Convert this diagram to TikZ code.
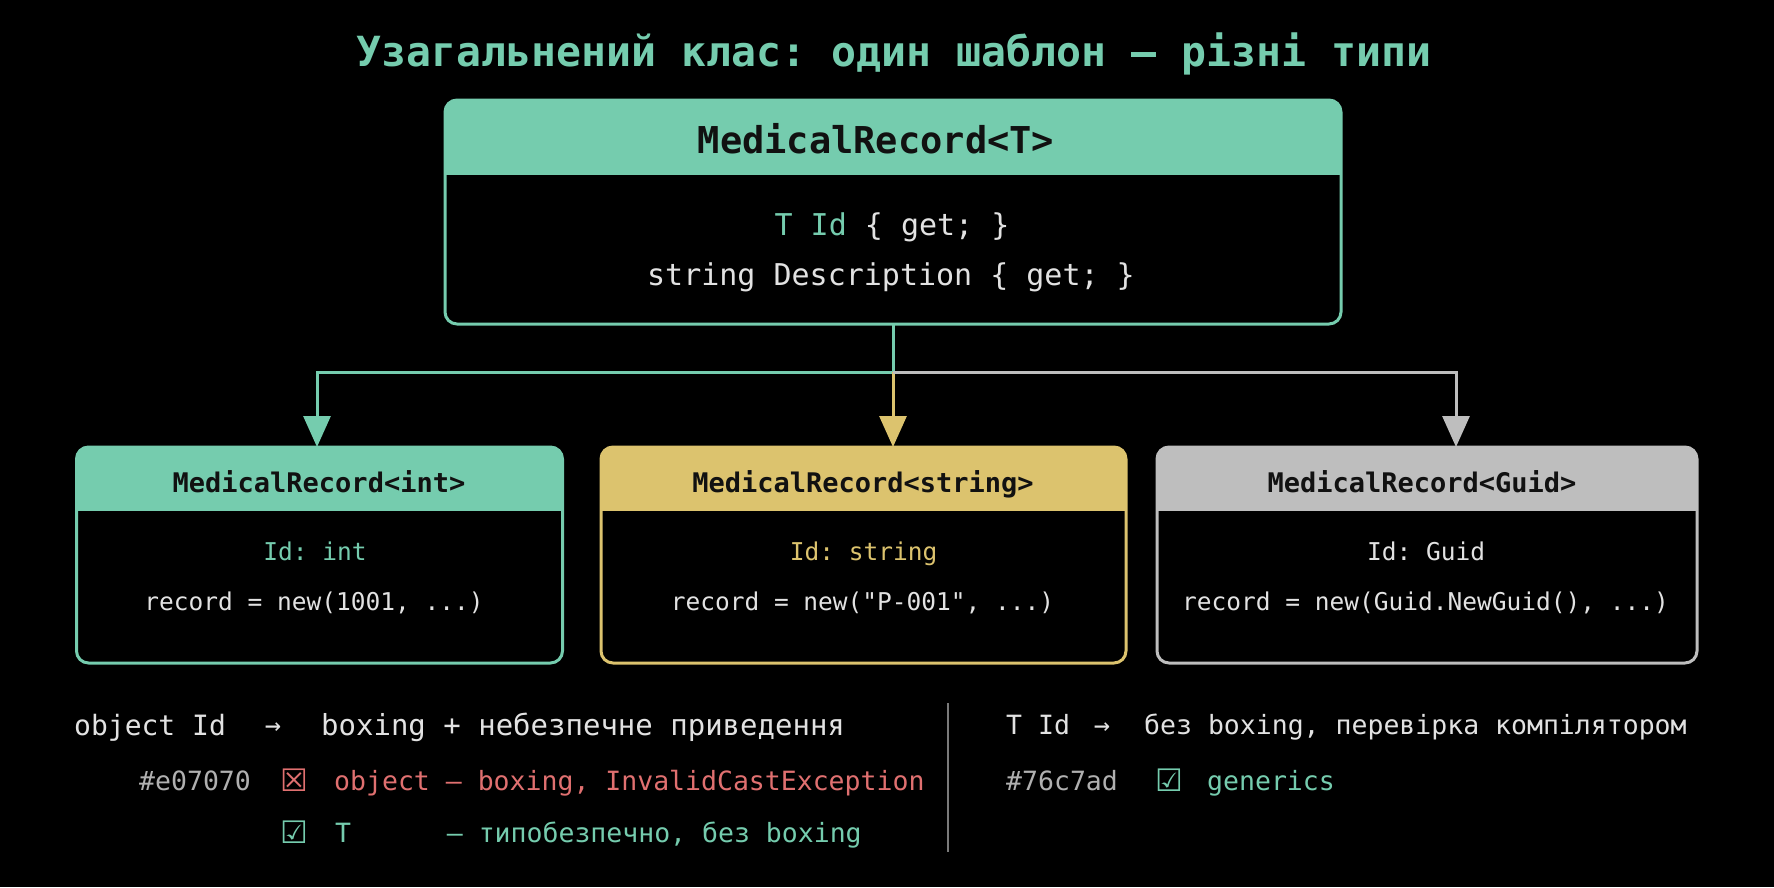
\documentclass[tikz,border=0pt]{standalone}
\usepackage{fontspec}
\setmainfont{DejaVu Sans Mono}[Ligatures=TeXReset]
\newfontfamily\symf{DejaVu Sans}
\usetikzlibrary{arrows.meta}
\definecolor{tealc}{HTML}{75CCAE}
\definecolor{yellc}{HTML}{DCC36E}
\definecolor{greyc}{HTML}{BEBEBE}
\definecolor{redc}{HTML}{E07070}
\definecolor{wtxt}{HTML}{E2E2E2}
\definecolor{gtxt}{HTML}{B0B0B0}
\definecolor{hdrtxt}{HTML}{111111}
\definecolor{divc}{HTML}{7A7A7A}
\newcommand\mkheader[3]{%
  \begin{scope}
    \clip[rounded corners=12pt] (#1.north west) rectangle (#1.south east);
    \fill[#2] (#1.north west) rectangle ([yshift=-#3pt]#1.north east);
  \end{scope}}
\begin{document}
\frenchspacing
\begin{tikzpicture}[x=1pt,y=-1pt,
  box/.style={draw=#1, line width=3pt, rounded corners=12pt, fill=black, inner sep=0pt, outer sep=0pt},
  txt/.style={inner sep=0pt},
  ttl/.style={txt, font=\bfseries\fontsize{41.5}{48}\selectfont, text=tealc, text height=31.1pt, text depth=10.4pt},
  hbig/.style={txt, font=\bfseries\fontsize{37}{44}\selectfont, text=hdrtxt, text height=27.8pt, text depth=9.2pt},
  hsmall/.style={txt, font=\bfseries\fontsize{27}{32}\selectfont, text=hdrtxt, text height=20.2pt, text depth=6.8pt},
  bodyA/.style={txt, font=\fontsize{30}{36}\selectfont, text=wtxt, text height=22.5pt, text depth=7.5pt},
  bodyB/.style={txt, font=\fontsize{24.5}{30}\selectfont, text=wtxt, text height=18.4pt, text depth=6.1pt},
  botA/.style={txt, font=\fontsize{28}{34}\selectfont, text=wtxt, anchor=west, text height=21pt, text depth=7pt},
  botA2/.style={txt, font=\fontsize{29}{34}\selectfont, text=wtxt, anchor=west, text height=21.7pt, text depth=7.3pt},
  botB/.style={txt, font=\fontsize{26.5}{32}\selectfont, text=wtxt, anchor=west, text height=19.9pt, text depth=6.6pt},
  arrtxt/.style={txt, font=\fontsize{27}{32}\selectfont, text=wtxt, text height=20.2pt, text depth=6.8pt},
  sym/.style={txt, font=\symf\fontsize{31}{36}\selectfont, text height=23.2pt, text depth=7.8pt},
  conn/.style={line width=3pt},
  arr/.style={conn, -{Triangle[length=31pt,width=27pt]}},
  divider/.style={draw=divc, line width=2pt}]
\fill[black] (0,0) rectangle (1774,887);
\useasboundingbox (0,0) rectangle (1774,887);

% title
\node[ttl] (title) at (894,56) {Узагальнений клас: один шаблон – різні типи};

% top box
\node[box=tealc, minimum width=896pt, minimum height=224pt] (top) at (893,212) {};
\mkheader{top}{tealc}{75}
\node[hbig] (toph) at (876,144) {MedicalRecord<T>};
\node[bodyA] (top1) at (892,228) {\textcolor{tealc}{T Id} \{ get; \}};
\node[bodyA] (top2) at (891,278) {string Description \{ get; \}};

% child boxes
\node[box=tealc, minimum width=486pt, minimum height=216pt] (cint) at (319.5,555) {};
\mkheader{cint}{tealc}{64}
\node[hsmall] (cinth) at (319,486) {MedicalRecord<int>};
\node[bodyB, text=tealc] (cint1) at (315,554) {Id: int};
\node[bodyB] (cint2) at (314,604) {record = new(1001, ...)};

\node[box=yellc, minimum width=525pt, minimum height=216pt] (cstr) at (863.5,555) {};
\mkheader{cstr}{yellc}{64}
\node[hsmall] (cstrh) at (863,486) {MedicalRecord<string>};
\node[bodyB, text=yellc] (cstr1) at (863.5,554) {Id: string};
\node[bodyB] (cstr2) at (862.5,604) {record = new("P-001", ...)};

\node[box=greyc, minimum width=540pt, minimum height=216pt] (cguid) at (1427,555) {};
\mkheader{cguid}{greyc}{64}
\node[hsmall] (cguidh) at (1422,486) {MedicalRecord<Guid>};
\node[bodyB, text=wtxt] (cguid1) at (1426,554) {Id: Guid};
\node[bodyB] (cguid2) at (1425.5,604) {record = new(Guid.NewGuid(), ...)};

% connectors
\coordinate (j) at (893,372);
\draw[conn, tealc] (top.south) -- (j);
\draw[arr, tealc] (j) -| ([xshift=-2.5pt]cint.north);
\draw[arr, yellc] (j) -- (j |- cstr.north);
\draw[arr, greyc] (j) -| ([xshift=29pt]cguid.north);

% bottom left
\node[botA] (l1a) at (74,728) {object Id};
\node[arrtxt] (l1b) at (273,728) {→};
\node[botA2] (l1c) at (321,728) {boxing + небезпечне приведення};
\node[botB, text=gtxt] (l2a) at (139,784) {\#e07070};
\node[sym, text=redc] (l2b) at (294,784) {☒};
\node[botB, text=redc] (l2c) at (334,784) {object – boxing, InvalidCastException};
\node[sym, text=tealc] (l3b) at (294,836) {☑};
\node[botB, text=tealc] (l3c) at (335,836) {T~~~~~~– типобезпечно, без boxing};

% divider
\coordinate (d1) at (948,703);
\coordinate (d2) at (948,852);
\draw[divider] (d1) -- (d2);

% bottom right
\node[botB] (r1a) at (1006,728) {T Id};
\node[arrtxt] (r1b) at (1102,728) {→};
\node[botB] (r1c) at (1144,728) {без boxing, перевірка компілятором};
\node[botB, text=gtxt] (r2a) at (1006,784) {\#76c7ad};
\node[sym, text=tealc] (r2b) at (1169,784) {☑};
\node[botB, text=tealc] (r2c) at (1207,784) {generics};
\end{tikzpicture}
\end{document}
